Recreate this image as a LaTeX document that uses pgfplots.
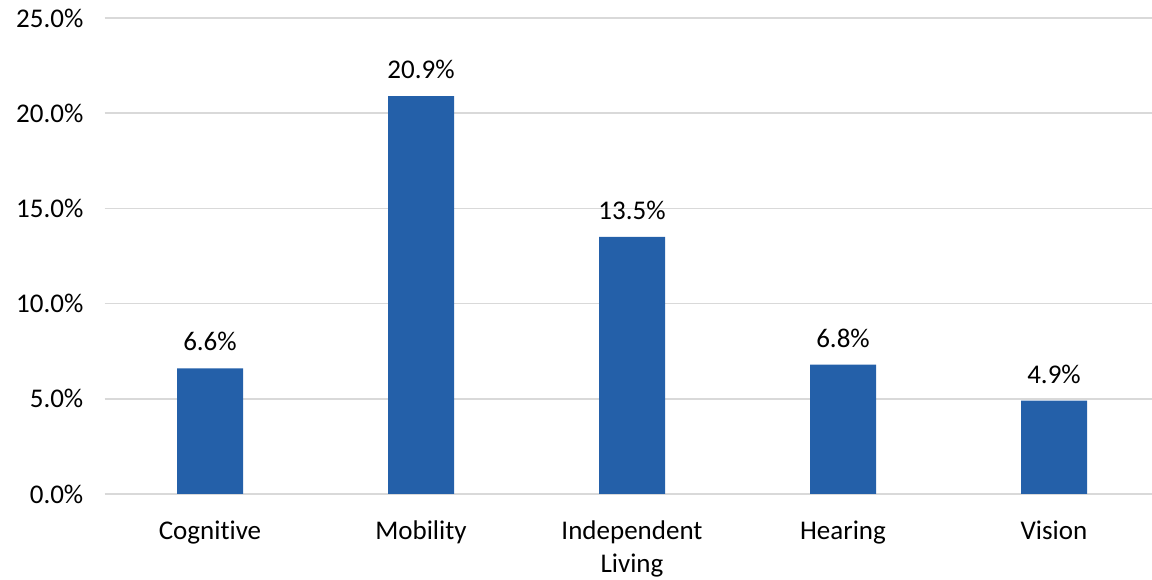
\documentclass[border=0pt]{standalone}
\usepackage{pgfplots}
\pgfplotsset{compat=1.18}
\usepackage{fontspec}
\setmainfont{Carlito}[Ligatures={NoCommon}]
\definecolor{barblue}{HTML}{2460A9}
\definecolor{gridgray}{HTML}{D9D9D9}
\begin{document}
\fontsize{27}{33}\selectfont
\begin{tikzpicture}
\path[use as bounding box] (0,0) rectangle (1152pt,580pt);
\begin{axis}[
  at={(104.5pt,86pt)}, anchor=south west,
  scale only axis, width=1055pt, height=476pt,
  xmin=-0.5, xmax=4.5, ymin=0, ymax=25,
  axis line style={draw=none},
  ytick={0,5,10,15,20,25},
  yticklabel={\pgfmathprintnumber[fixed,fixed zerofill,precision=1]{\tick}\%},
  /pgf/number format/assume math mode=true,
  ymajorgrids, grid style={gridgray, line width=1.5pt},
  major tick length=0pt,
  xtick={0,1,2,3,4},
  xticklabels={Cognitive,Mobility,{Independent\\Living},Hearing,Vision},
  xticklabel style={align=center, font=\fontsize{27}{33}\selectfont, yshift=-18pt},
  yticklabel style={font=\fontsize{27}{33}\selectfont, xshift=-12pt},
  ybar, bar width=66pt,
  nodes near coords={\pgfmathprintnumber[fixed,fixed zerofill,precision=1]{\pgfplotspointmeta}\%},
  every node near coord/.append style={font=\fontsize{27}{33}\selectfont, anchor=south, yshift=8pt, /pgf/number format/assume math mode=true},
]
\addplot[fill=barblue, draw=none] coordinates {(0,6.6) (1,20.9) (2,13.5) (3,6.8) (4,4.9)};
\end{axis}
\end{tikzpicture}
\end{document}
